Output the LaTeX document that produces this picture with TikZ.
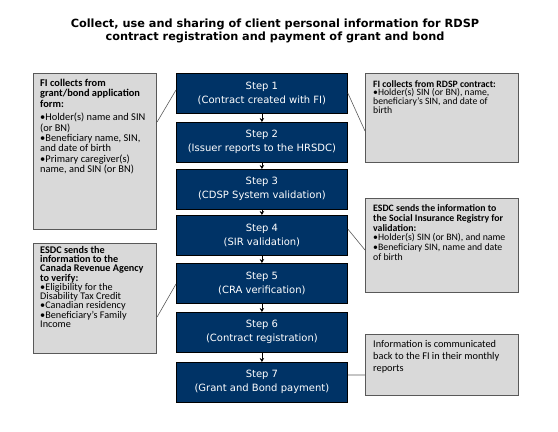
\documentclass[tikz,border=0pt]{standalone}
\usepackage{fontspec}
\setmainfont{DejaVu Sans}
\newfontfamily\boxfont{Carlito}
\usetikzlibrary{arrows.meta,calc}
\definecolor{navy}{RGB}{0,51,102}
\definecolor{boxgray}{RGB}{217,217,217}
\definecolor{boxedge}{RGB}{89,89,89}
\definecolor{linegray}{RGB}{90,90,90}
\begin{document}
\begin{tikzpicture}[x=1bp,y=-1bp,
 stepbox/.style={draw=black, line width=0.8bp, fill=navy, text=white, minimum width=171bp, minimum height=39.5bp, inner sep=0pt, anchor=north west, align=center, font=\fontsize{10bp}{14bp}\selectfont},
 sidebox/.style={draw=boxedge, line width=1.1bp, fill=boxgray, inner sep=0pt, anchor=north west},
 sidetext/.style={anchor=north west, inner sep=0pt, align=left},
 flow/.style={-{Stealth[length=4bp,width=4.5bp]}, black, line width=0.6bp},
 link/.style={draw=linegray, line width=0.6bp}]
\useasboundingbox (0,0) rectangle (558,431);

\node[align=center, font=\bfseries\fontsize{11.3bp}{13bp}\selectfont] (title) at (275,31)
 {Collect, use and sharing of client personal information for RDSP\\contract registration and payment of grant and bond};

\node[stepbox] (s1) at (176,73) {Step 1\\(Contract created with FI)};
\node[stepbox] (s2) at (176,122) {Step 2\\(Issuer reports to the HRSDC)};
\node[stepbox] (s3) at (176,169) {Step 3\\(CDSP System validation)};
\node[stepbox] (s4) at (176,215) {Step 4\\(SIR validation)};
\node[stepbox] (s5) at (176,263) {Step 5\\(CRA verification)};
\node[stepbox] (s6) at (176,312) {Step 6\\(Contract registration)};
\node[stepbox] (s7) at (176,362) {Step 7\\(Grant and Bond payment)};

\draw[flow] (s1.south) -- (s2.north);
\draw[flow] (s2.south) -- (s3.north);
\draw[flow] (s3.south) -- (s4.north);
\draw[flow] (s4.south) -- (s5.north);
\draw[flow] (s5.south) -- (s6.north);
\draw[flow] (s6.south) -- (s7.north);

\node[sidebox, minimum width=123bp, minimum height=156bp] (lb1) at (33,73) {};
\node[sidetext, font=\boxfont\fontsize{10.4bp}{10.3bp}\selectfont] (lt1) at ([xshift=7bp,yshift=-6bp]lb1.north west)
 {\textbf{FI collects from}\\\textbf{grant/bond  application}\\\textbf{form:}\\[3.5bp]
  •Holder(s) name and SIN\\(or BN)\\•Beneficiary name, SIN,\\and date of birth\\•Primary caregiver(s)\\name, and SIN (or BN)};

\node[sidebox, minimum width=123bp, minimum height=110bp] (lb2) at (33,243) {};
\node[sidetext, font=\boxfont\fontsize{10.2bp}{8.8bp}\selectfont] (lt2) at ([xshift=7bp,yshift=-3.5bp]lb2.north west)
 {\textbf{ESDC sends the}\\\textbf{information  to the}\\\textbf{Canada Revenue Agency}\\\textbf{to verify:}\\
  •Eligibility for the\\Disability Tax Credit\\•Canadian residency\\•Beneficiary’s Family\\Income};

\node[sidebox, minimum width=153bp, minimum height=89bp] (rb1) at (365,73) {};
\node[sidetext, font=\boxfont\fontsize{9.7bp}{8.8bp}\selectfont] (rt1) at ([xshift=8bp,yshift=-7bp]rb1.north west)
 {\textbf{FI collects from  RDSP contract:}\\•Holder(s) SIN (or BN), name,\\beneficiary’s SIN, and date of\\birth};

\node[sidebox, minimum width=153bp, minimum height=94bp] (rb2) at (365,198) {};
\node[sidetext, font=\boxfont\fontsize{9.8bp}{9.7bp}\selectfont] (rt2) at ([xshift=8bp,yshift=-6.5bp]rb2.north west)
 {\textbf{ESDC sends the  information to}\\\textbf{the Social Insurance  Registry for}\\\textbf{validation:}\\•Holder(s) SIN (or BN), and name\\•Beneficiary SIN, name and date\\of birth};

\node[sidebox, minimum width=153bp, minimum height=61bp] (rb3) at (365,334) {};
\node[sidetext, font=\boxfont\fontsize{10.3bp}{12bp}\selectfont] (rt3) at ([xshift=8bp,yshift=-6bp]rb3.north west)
 {Information is communicated\\back to the FI in their monthly\\reports};

\draw[link] ([yshift=-49bp]lb1.north east) -- ([yshift=-17bp]s1.north west);
\draw[link] ([yshift=-20bp]s1.north east) -- ([yshift=-58bp]rb1.north west);
\draw[link] ([yshift=-14bp]s4.north east) -- ([yshift=-52bp]rb2.north west);
\draw[link] ([yshift=-74bp]lb2.north east) -- ([yshift=-21bp]s5.north west);
\draw[link] ([yshift=-13bp]s7.north east) -- ([yshift=-41bp]rb3.north west);
\end{tikzpicture}
\end{document}
